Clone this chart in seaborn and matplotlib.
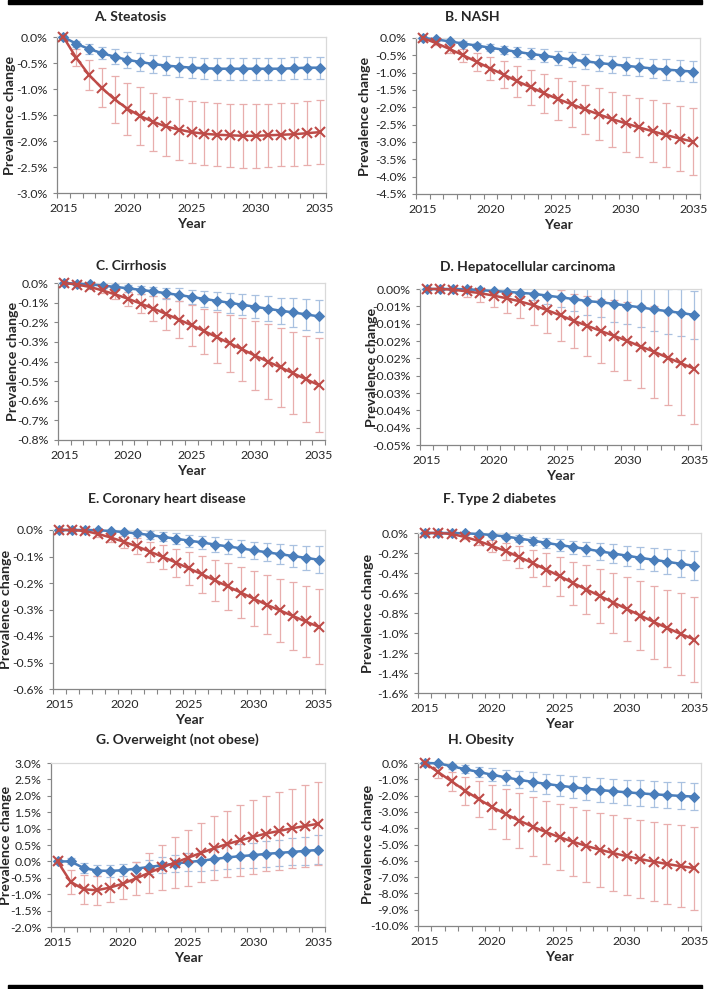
import numpy as np
import pandas as pd
import matplotlib
matplotlib.use("Agg")
import matplotlib.pyplot as plt
import seaborn as sns
from matplotlib.ticker import MultipleLocator, FixedLocator, PercentFormatter, NullFormatter

years = list(range(2015, 2036))

# all values are prevalence change in percentage points
# blue series (diamonds) and red series (crosses), with symmetric error half-widths
steatosis_blue = [0, -0.13, -0.23, -0.31, -0.38, -0.44, -0.48, -0.52, -0.55, -0.57, -0.59,
                  -0.60, -0.61, -0.61, -0.61, -0.61, -0.61, -0.61, -0.60, -0.59, -0.59]
steatosis_blue_err = [0, 0.06, 0.09, 0.12, 0.14, 0.16, 0.17, 0.18, 0.19, 0.195, 0.2,
                      0.2, 0.21, 0.21, 0.21, 0.21, 0.21, 0.21, 0.21, 0.21, 0.21]
steatosis_red = [0, -0.40, -0.73, -0.98, -1.20, -1.38, -1.52, -1.63, -1.72, -1.78, -1.83,
                 -1.86, -1.88, -1.89, -1.90, -1.90, -1.89, -1.88, -1.87, -1.85, -1.83]
steatosis_red_err = [0, 0.16, 0.29, 0.375, 0.45, 0.5, 0.55, 0.56, 0.57, 0.58, 0.6,
                     0.61, 0.61, 0.61, 0.61, 0.61, 0.61, 0.61, 0.61, 0.62, 0.62]

nash_blue = [0, -0.04, -0.10, -0.16, -0.22, -0.28, -0.34, -0.40, -0.46, -0.51, -0.57,
             -0.62, -0.67, -0.72, -0.76, -0.80, -0.84, -0.88, -0.91, -0.94, -0.97]
nash_blue_err = [0, 0.02, 0.04, 0.06, 0.08, 0.1, 0.12, 0.14, 0.16, 0.18, 0.2,
                 0.21, 0.22, 0.24, 0.25, 0.26, 0.27, 0.28, 0.29, 0.30, 0.31]
nash_red = [0, -0.15, -0.32, -0.50, -0.69, -0.88, -1.06, -1.25, -1.42, -1.60, -1.76,
            -1.91, -2.06, -2.20, -2.34, -2.46, -2.58, -2.69, -2.80, -2.90, -2.99]
nash_red_err = [0, 0.05, 0.1, 0.18, 0.27, 0.34, 0.39, 0.45, 0.51, 0.56, 0.61,
                0.66, 0.71, 0.75, 0.79, 0.83, 0.86, 0.89, 0.92, 0.95, 0.97]

cirrhosis_blue = [0, -0.003, -0.007, -0.013, -0.02, -0.027, -0.035, -0.043, -0.052, -0.061, -0.071,
                  -0.081, -0.091, -0.101, -0.111, -0.121, -0.131, -0.141, -0.150, -0.160, -0.170]
cirrhosis_blue_err = [0, 0.003, 0.006, 0.01, 0.013, 0.017, 0.021, 0.025, 0.029, 0.033, 0.037,
                      0.041, 0.045, 0.05, 0.054, 0.058, 0.063, 0.067, 0.072, 0.077, 0.082]
cirrhosis_red = [0, -0.008, -0.02, -0.038, -0.058, -0.08, -0.105, -0.13, -0.158, -0.186, -0.215,
                 -0.245, -0.276, -0.307, -0.338, -0.37, -0.40, -0.43, -0.46, -0.49, -0.52]
cirrhosis_red_err = [0, 0.004, 0.009, 0.015, 0.022, 0.035, 0.05, 0.065, 0.08, 0.095, 0.105,
                     0.115, 0.13, 0.145, 0.16, 0.175, 0.19, 0.2, 0.21, 0.22, 0.24]

hcc_blue = [0, 0, 0, -0.0001, -0.0003, -0.0006, -0.0008, -0.0011, -0.0014, -0.0019, -0.0024,
            -0.0029, -0.0035, -0.0038, -0.0043, -0.0048, -0.0053, -0.0059, -0.0064, -0.0069, -0.0075]
hcc_blue_err = [0, 0, 0.0001, 0.0003, 0.0005, 0.0008, 0.0011, 0.0015, 0.0019, 0.0024, 0.0029,
                0.0034, 0.0041, 0.0044, 0.0051, 0.0053, 0.0057, 0.0062, 0.0065, 0.0068, 0.007]
hcc_red = [0, 0, -0.0002, -0.0007, -0.0012, -0.0019, -0.0027, -0.0036, -0.0047, -0.0061, -0.0076,
           -0.0092, -0.0106, -0.0121, -0.0135, -0.0150, -0.0166, -0.0181, -0.0198, -0.0214, -0.0230]
hcc_red_err = [0, 0.0001, 0.0005, 0.0015, 0.0025, 0.0032, 0.0043, 0.0049, 0.0057, 0.0065, 0.0073,
               0.0077, 0.0086, 0.0092, 0.0102, 0.0113, 0.012, 0.0132, 0.0138, 0.0149, 0.0158]
hcc_tick_labels = ["0.00%", "-0.01%", "-0.01%", "-0.02%", "-0.02%",
                   "-0.03%", "-0.03%", "-0.04%", "-0.04%", "-0.05%"]

chd_blue = [0, 0, 0, -0.001, -0.004, -0.008, -0.013, -0.019, -0.026, -0.033, -0.040,
            -0.047, -0.055, -0.062, -0.069, -0.077, -0.084, -0.091, -0.098, -0.105, -0.112]
chd_blue_err = [0, 0, 0.001, 0.003, 0.005, 0.008, 0.011, 0.014, 0.017, 0.02, 0.023,
                0.025, 0.028, 0.029, 0.031, 0.032, 0.034, 0.037, 0.04, 0.045, 0.05]
chd_red = [0, 0, -0.004, -0.015, -0.029, -0.045, -0.062, -0.082, -0.102, -0.123, -0.145,
           -0.167, -0.19, -0.213, -0.236, -0.259, -0.282, -0.303, -0.324, -0.345, -0.365]
chd_red_err = [0, 0, 0.004, 0.01, 0.016, 0.023, 0.03, 0.037, 0.045, 0.053, 0.061,
               0.069, 0.078, 0.088, 0.096, 0.104, 0.112, 0.119, 0.128, 0.134, 0.141]

t2d_blue = [0, 0, 0, -0.003, -0.01, -0.02, -0.035, -0.055, -0.076, -0.098, -0.12,
            -0.14, -0.16, -0.183, -0.205, -0.227, -0.248, -0.268, -0.288, -0.308, -0.328]
t2d_blue_err = [0, 0, 0.002, 0.005, 0.01, 0.018, 0.025, 0.033, 0.04, 0.048, 0.056,
                0.065, 0.074, 0.083, 0.092, 0.1, 0.108, 0.116, 0.125, 0.135, 0.145]
t2d_red = [0, 0, -0.01, -0.04, -0.08, -0.13, -0.18, -0.24, -0.30, -0.365, -0.43,
           -0.50, -0.565, -0.63, -0.695, -0.76, -0.825, -0.89, -0.95, -1.01, -1.065]
t2d_red_err = [0, 0, 0.007, 0.02, 0.04, 0.06, 0.085, 0.11, 0.135, 0.165, 0.195,
               0.215, 0.245, 0.27, 0.3, 0.32, 0.345, 0.365, 0.385, 0.41, 0.425]

overweight_blue = [0, 0, -0.2, -0.28, -0.29, -0.27, -0.22, -0.17, -0.12, -0.07, -0.02,
                   0.02, 0.07, 0.12, 0.16, 0.19, 0.23, 0.26, 0.29, 0.32, 0.35]
overweight_blue_err = [0, 0.09, 0.15, 0.17, 0.18, 0.19, 0.2, 0.22, 0.24, 0.26, 0.28,
                       0.3, 0.32, 0.34, 0.36, 0.38, 0.39, 0.4, 0.41, 0.42, 0.44]
overweight_red = [0, -0.62, -0.85, -0.88, -0.80, -0.68, -0.52, -0.35, -0.18, -0.04, 0.11,
                  0.26, 0.40, 0.53, 0.64, 0.75, 0.85, 0.93, 1.01, 1.08, 1.15]
overweight_red_err = [0, 0.37, 0.45, 0.45, 0.44, 0.46, 0.5, 0.6, 0.68, 0.77, 0.85,
                      0.9, 0.97, 1.02, 1.08, 1.12, 1.15, 1.18, 1.21, 1.25, 1.27]

obesity_blue = [0, -0.02, -0.2, -0.38, -0.55, -0.72, -0.88, -1.03, -1.16, -1.28, -1.39,
                -1.49, -1.58, -1.66, -1.73, -1.80, -1.86, -1.92, -1.97, -2.02, -2.06]
obesity_blue_err = [0, 0.05, 0.15, 0.25, 0.33, 0.4, 0.47, 0.53, 0.58, 0.62, 0.65,
                    0.68, 0.71, 0.73, 0.75, 0.77, 0.79, 0.8, 0.81, 0.83, 0.84]
obesity_red = [0, -0.56, -1.13, -1.70, -2.22, -2.70, -3.13, -3.53, -3.90, -4.24, -4.55,
               -4.83, -5.09, -5.32, -5.53, -5.72, -5.90, -6.05, -6.20, -6.33, -6.45]
obesity_red_err = [0, 0.33, 0.6, 0.87, 1.12, 1.33, 1.52, 1.68, 1.82, 1.93, 2.03,
                   2.12, 2.2, 2.26, 2.32, 2.37, 2.41, 2.44, 2.48, 2.51, 2.55]

panels = [
    ("A. Steatosis", steatosis_blue, steatosis_blue_err, steatosis_red, steatosis_red_err, (-3.0, 0), 0.5, 1),
    ("B. NASH", nash_blue, nash_blue_err, nash_red, nash_red_err, (-4.5, 0), 0.5, 1),
    ("C. Cirrhosis", cirrhosis_blue, cirrhosis_blue_err, cirrhosis_red, cirrhosis_red_err, (-0.8, 0), 0.1, 1),
    ("D. Hepatocellular carcinoma", hcc_blue, hcc_blue_err, hcc_red, hcc_red_err, (-0.045, 0), 0.005, 2),
    ("E. Coronary heart disease", chd_blue, chd_blue_err, chd_red, chd_red_err, (-0.6, 0), 0.1, 1),
    ("F. Type 2 diabetes", t2d_blue, t2d_blue_err, t2d_red, t2d_red_err, (-1.6, 0), 0.2, 1),
    ("G. Overweight (not obese)", overweight_blue, overweight_blue_err, overweight_red, overweight_red_err, (-2.0, 3.0), 0.5, 1),
    ("H. Obesity", obesity_blue, obesity_blue_err, obesity_red, obesity_red_err, (-10.0, 0), 1.0, 1),
]

# layout in pixels: axes (left, right, top, bottom), title centre, y-label centre offset
W, H = 710, 989
boxes = [(57, 326, 37, 193), (416, 700, 38, 194),
         (58, 325, 283, 440), (420, 701, 289, 445),
         (53, 325, 530, 689), (418, 701, 533, 693),
         (51, 325, 763, 927), (418, 701, 763, 926)]
title_pos = [(130, 17), (472, 17), (131, 266), (528, 267),
             (167, 499), (500, 499), (177, 740), (481, 740)]
ylab_off = [-47, -51, -45, -48, -47, -50, -45, -50]

sns.set_style("white")
plt.rcParams['font.family'] = ['Lato', 'DejaVu Sans']
plt.rcParams['axes.unicode_minus'] = False

BLUE = "#4A7EBB"
RED = "#BE4B48"
BLUE_ERR = "#A9C1E0"
RED_ERR = "#E8AEAD"

fig = plt.figure(figsize=(W / 100, H / 100), dpi=100)

for i, (title, b, be, r, re, ylim, step, dec) in enumerate(panels):
    l, rt, t, bt = boxes[i]
    ax = fig.add_axes([l / W, 1 - bt / H, (rt - l) / W, (bt - t) / H])
    df = pd.DataFrame({"Year": years, "blue": b, "blue_err": be, "red": r, "red_err": re})

    ax.errorbar(df.Year, df.blue, yerr=df.blue_err, fmt='none', ecolor=BLUE_ERR,
                elinewidth=0.9, capsize=2.8, capthick=0.9, zorder=2)
    ax.errorbar(df.Year, df.red, yerr=df.red_err, fmt='none', ecolor=RED_ERR,
                elinewidth=0.9, capsize=2.8, capthick=0.9, zorder=2)
    sns.lineplot(data=df, x="Year", y="blue", color=BLUE, marker="D", markersize=5.6,
                 markeredgecolor=BLUE, markerfacecolor=BLUE, linewidth=1.8,
                 ax=ax, zorder=3, clip_on=False)
    sns.lineplot(data=df, x="Year", y="red", color=RED, marker="x", markersize=6.5,
                 markeredgecolor=RED, markeredgewidth=1.5, linewidth=1.8,
                 ax=ax, zorder=4, clip_on=False)

    ax.set_xlim(2014.5, 2035.5)
    ax.set_ylim(*ylim)
    ax.xaxis.set_major_locator(FixedLocator([2015, 2020, 2025, 2030, 2035]))
    ax.xaxis.set_minor_locator(FixedLocator(np.arange(2014.5, 2036, 1.0)))
    ax.xaxis.set_minor_formatter(NullFormatter())
    if title.startswith("D."):
        ax.yaxis.set_major_locator(FixedLocator(-np.arange(10) * step))
        ax.set_yticklabels(hcc_tick_labels)
    else:
        ax.yaxis.set_major_locator(MultipleLocator(step))
        ax.yaxis.set_major_formatter(PercentFormatter(xmax=100, decimals=dec))
    ax.tick_params(axis='x', which='major', length=0, pad=7.5, labelsize=8.8)
    ax.tick_params(axis='x', which='minor', length=3.5, width=0.8, color='#868686', direction='out')
    ax.tick_params(axis='y', which='major', length=3, width=0.8, color='#868686',
                   direction='out', pad=4, labelsize=8.8)
    ax.tick_params(bottom=True, left=True, which='both')

    for s in ['left', 'bottom']:
        ax.spines[s].set_color('#868686')
        ax.spines[s].set_linewidth(0.9)
    for s in ['top', 'right']:
        ax.spines[s].set_color('#D9D9D9')
        ax.spines[s].set_linewidth(0.9)

    ax.set_xlabel("Year", fontsize=10, fontweight='bold', va='center')
    ax.set_ylabel("Prevalence change", fontsize=10.3, fontweight='bold', va='center')
    ax.xaxis.set_label_coords(0.5, -31 / (bt - t))
    ax.yaxis.set_label_coords(ylab_off[i] / (rt - l), 0.5)

    cx, cy = title_pos[i]
    fig.text(cx / W, 1 - cy / H, title, ha='center', va='center',
             fontsize=10, fontweight='bold')

# heavy rules above and below the figure
fig.add_artist(plt.Rectangle((8 / W, 1 - 4 / H), 694 / W, 4 / H, color='black',
                             transform=fig.transFigure))
fig.add_artist(plt.Rectangle((8 / W, 0), 694 / W, 4 / H, color='black',
                             transform=fig.transFigure))

fig.savefig("out.png", dpi=100)
